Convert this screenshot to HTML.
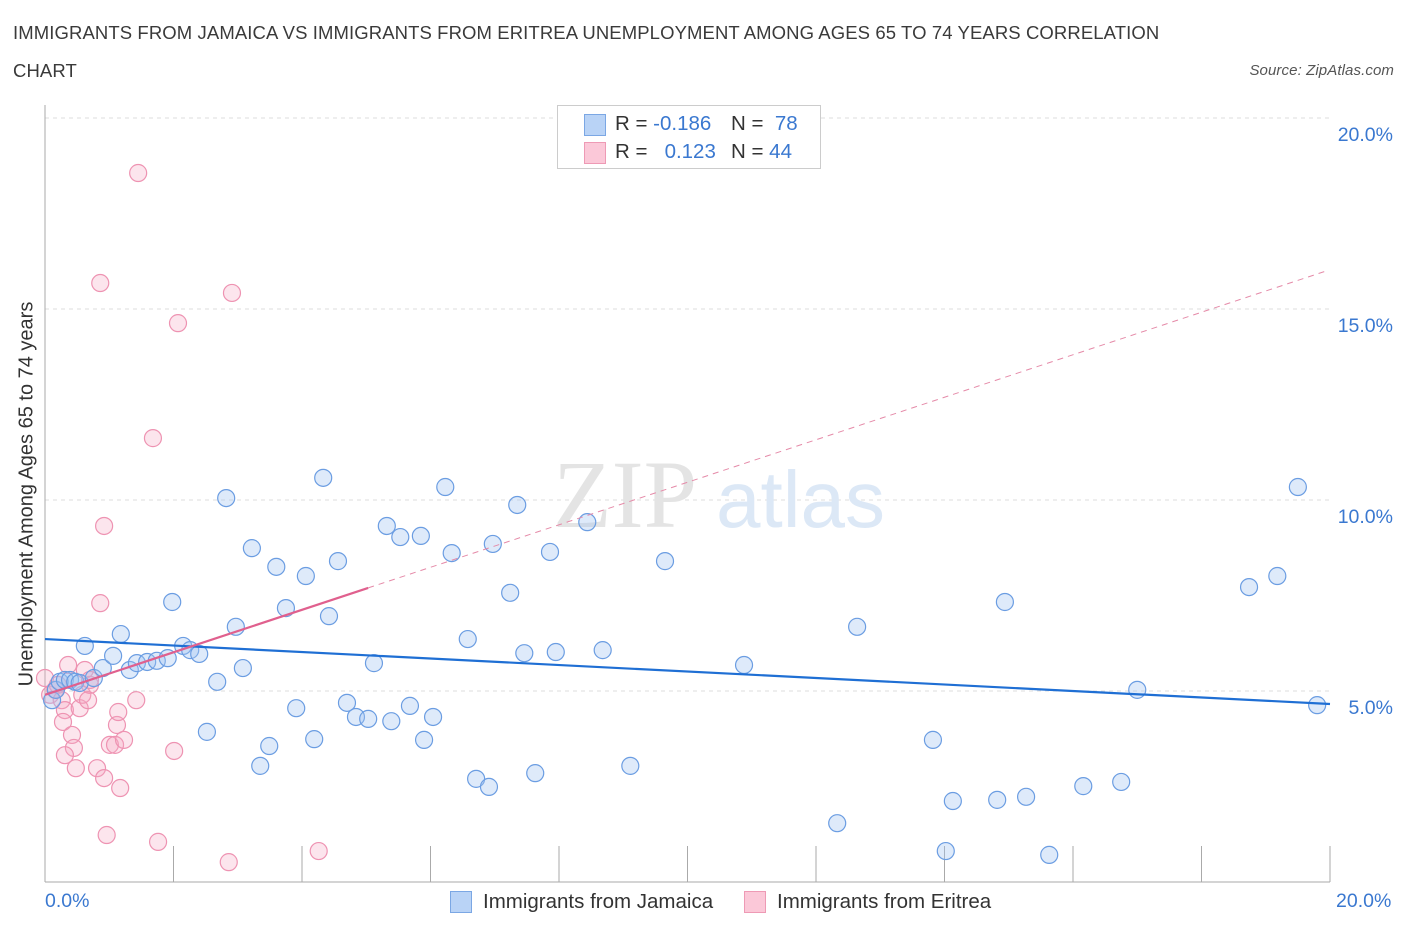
<!DOCTYPE html>
<html><head><meta charset="utf-8"><style>
body{margin:0;background:#fff;font-family:"Liberation Sans",sans-serif;}
#wrap{position:relative;width:1406px;height:930px;overflow:hidden;}
.t{position:absolute;color:#3a3a3a;font-size:18.5px;letter-spacing:0.1px;}
</style></head><body>
<div id="wrap">
<div class="t" style="left:13px;top:22px">IMMIGRANTS FROM JAMAICA VS IMMIGRANTS FROM ERITREA UNEMPLOYMENT AMONG AGES 65 TO 74 YEARS CORRELATION</div>
<div class="t" style="left:13px;top:60px">CHART</div>
<div class="t" style="right:12px;top:62px;font-size:15px;font-style:italic;color:#555">Source: ZipAtlas.com</div>
<svg id="svg" width="1406" height="930" style="position:absolute;left:0;top:0"></svg>
</div>
<script>
const bx=[0.11,0.17,0.23,0.31,0.39,0.47,0.54,0.62,0.76,0.90,1.06,1.18,1.32,1.43,1.59,1.74,1.91,1.98,2.15,2.26,2.40,2.52,2.68,2.82,2.97,3.08,3.22,3.35,3.49,3.60,3.75,3.91,4.06,4.19,4.33,4.42,4.56,4.70,4.84,5.03,5.12,5.32,5.39,5.53,5.68,5.85,5.90,6.04,6.23,6.33,6.58,6.71,6.91,6.97,7.24,7.35,7.46,7.63,7.86,7.95,8.44,8.68,9.11,9.65,10.88,12.33,12.64,13.82,14.02,14.13,14.82,14.94,15.27,15.63,16.16,16.75,17.00,18.74,19.18,19.50,19.80];
const by=[4.76,5.03,5.24,5.29,5.29,5.24,5.21,6.18,5.34,5.60,5.92,6.49,5.55,5.73,5.76,5.79,5.86,7.33,6.18,6.07,5.97,3.93,5.24,10.05,6.68,5.60,8.74,3.04,3.56,8.25,7.17,4.55,8.01,3.74,10.58,6.96,8.40,4.69,4.32,4.27,5.73,9.32,4.21,9.03,4.61,9.06,3.72,4.32,10.34,8.61,6.36,2.70,2.49,8.85,7.57,9.87,5.99,2.85,8.64,6.02,9.42,6.07,3.04,8.40,5.68,1.54,6.68,3.72,0.81,2.12,2.15,7.33,2.23,0.71,2.51,2.62,5.03,7.72,8.01,10.34,4.63];
const px=[0,0.08,0.16,0.20,0.26,0.31,0.28,0.36,0.42,0.45,0.48,0.31,0.54,0.58,0.62,0.70,0.67,0.81,0.86,0.92,0.86,0.92,0.96,1.01,1.09,1.12,1.14,1.17,1.23,1.42,1.45,1.68,1.76,2.01,2.07,2.86,2.91,4.26,0.70];
const py=[5.34,4.90,5.03,5.16,4.76,4.50,4.19,5.68,3.85,3.51,2.98,3.32,4.55,4.90,5.55,5.16,4.76,2.98,15.68,9.32,7.30,2.72,1.23,3.59,3.59,4.11,4.45,2.46,3.72,4.76,18.56,11.62,1.05,3.43,14.63,0.52,15.42,0.81,5.29];
const yTicks=[5,10,15,20];
const yTickLabels=["5.0%","10.0%","15.0%","20.0%"];
const blueTrend=[6.36,4.66];
const pinkTrend=[4.9,16.0];
const X=v=>45+v*64.25, Y=v=>882-v*38.2;
const s=document.getElementById('svg');const NS='http://www.w3.org/2000/svg';
function mk(t,a,p){const e=document.createElementNS(NS,t);for(const k in a)e.setAttribute(k,a[k]);(p||s).appendChild(e);return e;}
yTicks.forEach((v,i)=>{
 const g=mk('line',{x1:45,x2:1330,y1:Y(v),y2:Y(v),stroke:'#ddd','stroke-dasharray':'4,4'});
 
 
 const t=mk('text',{x:1393,y:Y(v)+23,'text-anchor':'end','font-size':19.5,fill:'#3a78d0','font-family':'Liberation Sans'});
 t.textContent=yTickLabels[i];
 
 
});
const wm=mk('text',{x:553,y:527,'font-size':96,fill:'#e4e4e4','font-family':'Liberation Serif'});wm.textContent='ZIP';


const wm2=mk('text',{x:716,y:527,'font-size':80,fill:'#dce8f6','font-family':'Liberation Sans'});wm2.textContent='atlas';


mk('line',{x1:45,x2:45,y1:105,y2:882,stroke:'#aaa'});
mk('line',{x1:45,x2:1330,y1:882,y2:882,stroke:'#aaa'});
for(let i=0;i<=10;i++){const tk=mk('line',{x1:X(i*2),x2:X(i*2),y1:846,y2:882,stroke:'#aaa'});
 
 }
for(let i=0;i<px.length;i++){const c=mk('circle',{cx:X(px[i]),cy:Y(py[i]),r:8.5,fill:'rgba(246,170,195,0.3)',stroke:'#ee93b2','stroke-width':1.2});
 
 }
for(let i=0;i<bx.length;i++){const c=mk('circle',{cx:X(bx[i]),cy:Y(by[i]),r:8.5,fill:'rgba(160,195,240,0.35)',stroke:'#6b9de2','stroke-width':1.2});
 
 }
const bl=mk('line',{x1:X(0),y1:Y(blueTrend[0]),x2:X(20),y2:Y(blueTrend[1]),stroke:'#1f6fd4','stroke-width':2.2});


const pk=(x)=>pinkTrend[0]+(pinkTrend[1]-pinkTrend[0])*x/19.95;
const pl=mk('line',{x1:X(0),y1:Y(pk(0)),x2:X(5.03),y2:Y(pk(5.03)),stroke:'#e0608e','stroke-width':2.2});


const pd=mk('line',{x1:X(5.03),y1:Y(pk(5.03)),x2:X(19.95),y2:Y(pk(19.95)),stroke:'#e58aa8','stroke-width':1,'stroke-dasharray':'6,5'});


</script>
<div style="position:absolute;left:557px;top:105px;width:262px;height:62px;border:1px solid #ccc;background:#fff;font-size:20.5px;color:#333">
 <div style="position:absolute;left:26px;top:8px;width:20px;height:20px;background:#b9d3f6;border:1px solid #7ba7e4"></div>
 <div style="position:absolute;left:57px;top:6px">R = <span style="color:#3a78d0">-0.186</span></div>
 <div style="position:absolute;left:173px;top:6px">N = <span style="color:#3a78d0">&nbsp;78</span></div>
 <div style="position:absolute;left:26px;top:36px;width:20px;height:20px;background:#fbc8d8;border:1px solid #ee9ab5"></div>
 <div style="position:absolute;left:57px;top:34px">R = &nbsp;&nbsp;<span style="color:#3a78d0">0.123</span></div>
 <div style="position:absolute;left:173px;top:34px">N = <span style="color:#3a78d0">44</span></div>
</div>
<div style="position:absolute;left:45px;top:890px;font-size:19.5px;color:#3a78d0">0.0%</div>
<div style="position:absolute;left:1336px;top:890px;font-size:19.5px;color:#3a78d0">20.0%</div>
<div style="position:absolute;left:450px;top:891px;width:20px;height:20px;background:#b9d3f6;border:1px solid #7ba7e4"></div>
<div style="position:absolute;left:483px;top:890px;font-size:20.5px;color:#333">Immigrants from Jamaica</div>
<div style="position:absolute;left:744px;top:891px;width:20px;height:20px;background:#fbc8d8;border:1px solid #ee9ab5"></div>
<div style="position:absolute;left:777px;top:890px;font-size:20.5px;color:#333">Immigrants from Eritrea</div>
<div style="position:absolute;left:27px;top:494px;transform:translate(-50%,-50%) rotate(-90deg);white-space:nowrap;font-size:20px;color:#333">Unemployment Among Ages 65 to 74 years</div>
</body></html>
